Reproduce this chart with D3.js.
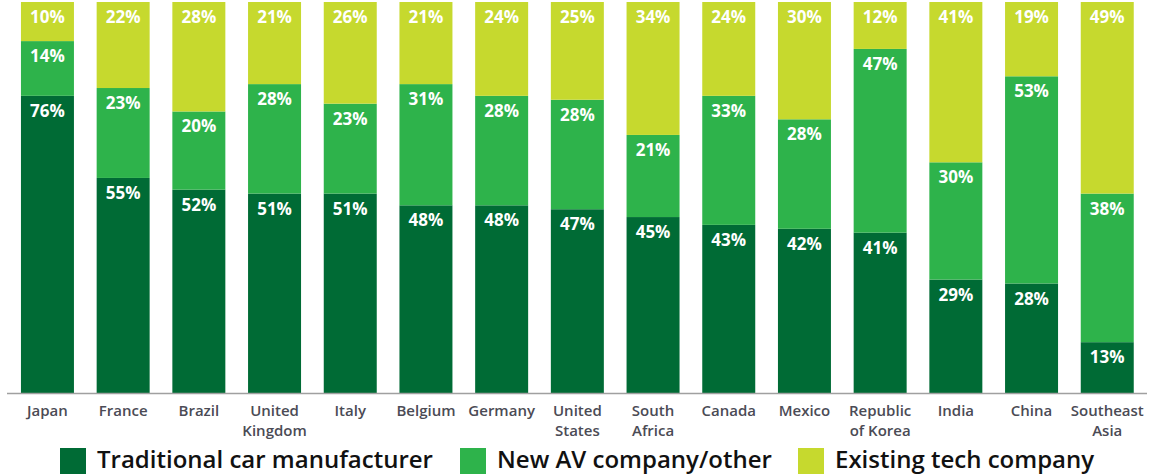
<!DOCTYPE html>
<html>
<head>
<meta charset="utf-8">
<script src="https://cdn.jsdelivr.net/npm/d3@7"></script>
<style>
	body { margin: 0; background: #fff; }
	svg { display: block; font-family: "Open Sans", sans-serif; }
</style>
</head>
<body>
<div id="chart"></div>
<script>
var countries = ["Japan", "France", "Brazil", "United Kingdom", "Italy", "Belgium", "Germany", "United States",
	"South Africa", "Canada", "Mexico", "Republic of Korea", "India", "China", "Southeast Asia"];
// tick labels, split over two lines where the original wraps
var tickLabels = [["Japan"], ["France"], ["Brazil"], ["United", "Kingdom"], ["Italy"], ["Belgium"], ["Germany"],
	["United", "States"], ["South", "Africa"], ["Canada"], ["Mexico"], ["Republic", "of Korea"], ["India"], ["China"],
	["Southeast", "Asia"]];
var traditional = [76, 55, 52, 51, 51, 48, 48, 47, 45, 43, 42, 41, 29, 28, 13];
var newAV = [14, 23, 20, 28, 23, 31, 28, 28, 21, 33, 28, 47, 30, 53, 38];
var existingTech = [10, 22, 28, 21, 26, 21, 24, 25, 34, 24, 30, 12, 41, 19, 49];
var seriesNames = ["Traditional car manufacturer", "New AV company/other", "Existing tech company"];
var colors = ["#006b35", "#2eb34b", "#c6d92e"];

var width = 1153, height = 474;
var margin = {top: 2, left: 9.6, right: 8, bottom: 81};

var rows = countries.map(function (c, i) {
	return {country: c, s0: traditional[i], s1: newAV[i], s2: existingTech[i]};
});
var stack = d3.stack().keys(["s0", "s1", "s2"]);
var series = stack(rows);

var x = d3.scaleBand()
	.domain(countries)
	.range([margin.left, margin.left + 15 * 75.7])
	.paddingInner(0.3)
	.paddingOuter(0.15);
var y = d3.scaleLinear().domain([0, 100]).range([height - margin.bottom, margin.top]);

var svg = d3.select("#chart").append("svg")
	.attr("width", width)
	.attr("height", height);

// stacked bars
var groups = svg.selectAll("g.layer")
	.data(series)
	.enter().append("g")
	.attr("class", "layer")
	.attr("fill", function (d, i) { return colors[i]; });

groups.selectAll("rect")
	.data(function (d) { return d; })
	.enter().append("rect")
	.attr("x", function (d) { return x(d.data.country); })
	.attr("y", function (d) { return y(d[1]); })
	.attr("width", x.bandwidth())
	.attr("height", function (d) { return y(d[0]) - y(d[1]); });

// value labels near the top of each segment
groups.selectAll("text")
	.data(function (d) { return d; })
	.enter().append("text")
	.attr("x", function (d) { return x(d.data.country) + x.bandwidth() / 2; })
	.attr("y", function (d) { return y(d[1]) + 21; })
	.attr("text-anchor", "middle")
	.attr("fill", "#fff")
	.attr("font-size", "17px")
	.attr("font-weight", "bold")
	.text(function (d) { return (d[1] - d[0]) + "%"; });

// x axis
var axis = svg.append("g")
	.attr("transform", "translate(0," + y(0) + ")")
	.call(d3.axisBottom(x).tickSize(0).tickFormat(""))
	.attr("font-family", "'Open Sans', sans-serif");
axis.select(".domain")
	.attr("d", "M7,0.5H1147")
	.attr("stroke", "#a0a0a0")
	.attr("stroke-width", 1.5);

axis.selectAll(".tick").each(function (d, i) {
	var t = d3.select(this).append("text")
		.attr("fill", "#4b4b55")
		.attr("font-size", "15px")
		.attr("font-weight", 600)
		.attr("text-anchor", "middle")
		.attr("y", 23);
	tickLabels[i].forEach(function (line, j) {
		t.append("tspan").attr("x", 0).attr("dy", j === 0 ? 0 : 19.5).text(line);
	});
});

// legend
var legendX = [60, 460, 798];
var legend = svg.selectAll("g.legend")
	.data(seriesNames)
	.enter().append("g")
	.attr("class", "legend")
	.attr("transform", function (d, i) { return "translate(" + legendX[i] + ",448)"; });

legend.append("rect")
	.attr("width", 26)
	.attr("height", 26)
	.attr("fill", function (d, i) { return colors[i]; });

legend.append("text")
	.attr("x", 37)
	.attr("y", 20)
	.attr("font-size", "24px")
	.attr("font-weight", 600)
	.attr("fill", "#111")
	.text(function (d) { return d; });
</script>
</body>
</html>
